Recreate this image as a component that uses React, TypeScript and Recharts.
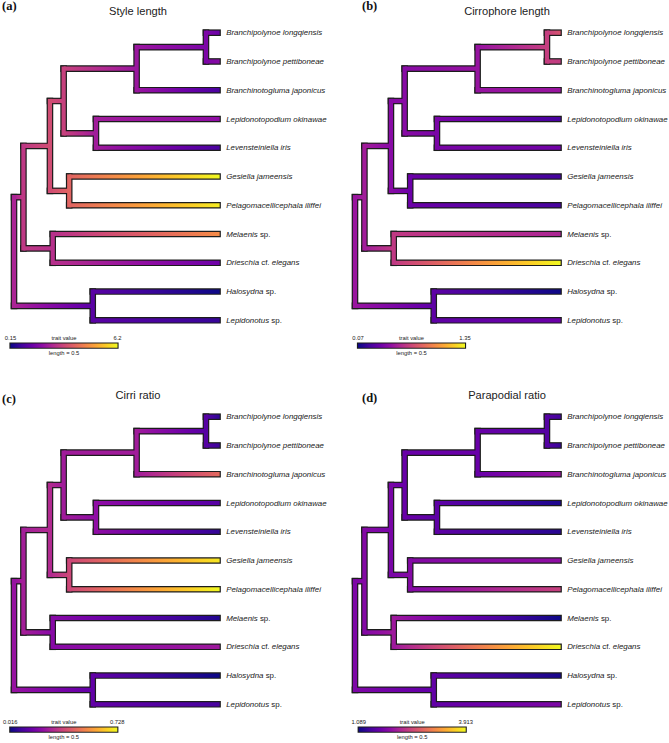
import React from "react";
import { ScatterChart, Scatter, XAxis, YAxis, ReferenceArea } from "recharts";

// tips, top to bottom
const TAXA = [
  "Branchipolynoe longqiensis",
  "Branchipolynoe pettiboneae",
  "Branchinotogluma japonicus",
  "Lepidonotopodium okinawae",
  "Levensteiniella iris",
  "Gesiella jameensis",
  "Pelagomacellicephala iliffei",
  "Melaenis sp.",
  "Drieschia cf. elegans",
  "Halosydna sp.",
  "Lepidonotus sp.",
];

// internal nodes (tree units from the root) and their two children
const NODE_IDS = ["root", "n1", "n2", "n3", "n4", "n5", "n6", "n7", "n8", "n9"];
const NODE_DEPTHS = [0, 0.044, 0.168, 0.232, 0.573, 0.897, 0.383, 0.258, 0.181, 0.368];
const NODE_CHILDREN = [
  ["n1", "n9"],
  ["n2", "n8"],
  ["n3", "n7"],
  ["n4", "n6"],
  ["n5", "t2"],
  ["t0", "t1"],
  ["t3", "t4"],
  ["t5", "t6"],
  ["t7", "t8"],
  ["t9", "t10"],
];
const TIP_DEPTH = 0.961;
const LEGEND_LENGTH = 0.5;

const TITLES = ["Style length", "Cirrophore length", "Cirri ratio", "Parapodial ratio"];
const LETTERS = ["(a)", "(b)", "(c)", "(d)"];
const RANGES = [
  [0.15, 6.2],
  [0.07, 1.35],
  [0.016, 0.728],
  [1.089, 3.913],
];
const RANGE_LABELS = [
  ["0.15", "6.2"],
  ["0.07", "1.35"],
  ["0.016", "0.728"],
  ["1.089", "3.913"],
];

// trait values at tips (TAXA order) and at nodes (NODE_IDS order)
const STYLE_TIPS = [1.36, 1.84, 0.88, 1.97, 0.88, 6.2, 6.02, 4.51, 1.42, 0.15, 0.63];
const STYLE_NODES = [2.45, 2.87, 3.3, 3.05, 2.15, 1.66, 2.27, 3.78, 2.69, 1.12];
const CIRROPHORE_TIPS = [0.77, 0.66, 0.49, 0.22, 0.35, 0.21, 0.22, 0.56, 1.35, 0.07, 0.33];
const CIRROPHORE_NODES = [0.49, 0.52, 0.43, 0.43, 0.48, 0.67, 0.38, 0.33, 0.65, 0.29];
const CIRRI_TIPS = [0.059, 0.08, 0.457, 0.123, 0.066, 0.699, 0.728, 0.044, 0.258, 0.016, 0.101];
const CIRRI_NODES = [0.244, 0.272, 0.301, 0.265, 0.265, 0.123, 0.23, 0.372, 0.215, 0.144];
const PARAPODIAL_TIPS = [1.4, 1.32, 2.02, 1.17, 1.23, 1.94, 2.44, 1.089, 3.913, 1.15, 1.8];
const PARAPODIAL_NODES = [1.8, 1.85, 1.77, 1.65, 1.65, 1.51, 1.57, 1.85, 2.05, 1.6];

const TIP_VALUES = [STYLE_TIPS, CIRROPHORE_TIPS, CIRRI_TIPS, PARAPODIAL_TIPS];
const NODE_VALUES = [STYLE_NODES, CIRROPHORE_NODES, CIRRI_NODES, PARAPODIAL_NODES];

// layout
const CHART_W = 328;
const CHART_H = 358;
const X_DOMAIN = [-0.0654, 1.4673];
const Y_DOMAIN = [-0.137, 12.311];
const PX_X = CHART_W / (X_DOMAIN[1] - X_DOMAIN[0]);
const PX_Y = CHART_H / (Y_DOMAIN[1] - Y_DOMAIN[0]);
const LINE_W = 4.2;
const OUTLINE_W = 6.6;
const PANEL_POS = [
  { left: 0, top: 0, titleX: 138, letterX: 2, letterY: 9.5, legendLeft: 10.5 },
  { left: 341, top: 0, titleX: 166, letterX: 21, letterY: 9.5, legendLeft: 17 },
  { left: 0, top: 384, titleX: 138, letterX: 2, letterY: 18.5, legendLeft: 10.3 },
  { left: 341, top: 384, titleX: 166, letterX: 21, letterY: 18, legendLeft: 17.7 },
];

const PLASMA = [
  "#0d0887", "#41049d", "#6a00a8", "#8f0da4", "#b12a90", "#cc4778",
  "#e16462", "#f2844b", "#fca636", "#fcce25", "#f0f921",
];

const hex = (h: string) => [1, 3, 5].map((i) => parseInt(h.slice(i, i + 2), 16));
function plasma(t: number) {
  const c = Math.min(1, Math.max(0, t)) * (PLASMA.length - 1);
  const i = Math.min(PLASMA.length - 2, Math.floor(c));
  const f = c - i;
  const a = hex(PLASMA[i]);
  const b = hex(PLASMA[i + 1]);
  return `rgb(${a.map((v, k) => Math.round(v + (b[k] - v) * f)).join(",")})`;
}

const dx = (px: number) => px / PX_X;
const dy = (px: number) => px / PX_Y;
const yAt = (px: number) => Y_DOMAIN[0] + px / PX_Y;
const xAt = (px: number) => X_DOMAIN[0] + px / PX_X;

function buildTree() {
  const depth: Record<string, number> = {};
  const yPos: Record<string, number> = {};
  TAXA.forEach((_, i) => {
    depth["t" + i] = TIP_DEPTH;
    yPos["t" + i] = i + 1;
  });
  NODE_IDS.forEach((id, k) => (depth[id] = NODE_DEPTHS[k]));
  const getY = (id: string): number => {
    if (yPos[id] === undefined) {
      const [a, b] = NODE_CHILDREN[NODE_IDS.indexOf(id)];
      yPos[id] = (getY(a) + getY(b)) / 2;
    }
    return yPos[id];
  };
  getY("root");
  return { depth, yPos };
}

const TREE = buildTree();

const renderTip = (props: any) => {
  const { cx, cy, payload } = props;
  const words: string[] = payload.name.split(" ");
  return (
    <text x={cx + 6.5} y={cy} dy="0.34em" fontSize={7.9} fontFamily="'Liberation Sans', Arial, sans-serif" fill="#1a1a1a">
      {words.map((w, i) => (
        <tspan key={i} fontStyle={w === "sp." || w === "cf." ? "normal" : "italic"}>
          {(i ? " " : "") + w}
        </tspan>
      ))}
    </text>
  );
};

const renderLegendText = (props: any) => {
  const { cx, cy, payload } = props;
  return (
    <text x={cx} y={cy} textAnchor="middle" fontSize={5.8} fontFamily="'Liberation Sans', Arial, sans-serif" fill="#1a1a1a">
      {payload.label}
    </text>
  );
};

function TreePanel({ idx }: { idx: number }) {
  const pos = PANEL_POS[idx];
  const [lo, hi] = RANGES[idx];
  const { depth, yPos } = TREE;
  const value: Record<string, number> = {};
  TAXA.forEach((_, i) => (value["t" + i] = TIP_VALUES[idx][i]));
  NODE_IDS.forEach((id, k) => (value[id] = NODE_VALUES[idx][k]));
  const tOf = (id: string) => (value[id] - lo) / (hi - lo);

  const edges = NODE_IDS.flatMap((id, k) => NODE_CHILDREN[k].map((c) => ({ from: id, to: c })));
  const hw = dx(LINE_W / 2);
  const ow = dx(OUTLINE_W / 2);
  const hh = dy(LINE_W / 2);
  const oh = dy(OUTLINE_W / 2);

  const tipPts = TAXA.map((name, i) => ({ x: TIP_DEPTH, y: i + 1, name }));
  const legX0 = xAt(pos.legendLeft);
  const legX1 = legX0 + LEGEND_LENGTH;
  const legendPts = [
    { x: legX0, y: yAt(339.6), label: RANGE_LABELS[idx][0] },
    { x: (legX0 + legX1) / 2, y: yAt(339.6), label: "trait value" },
    { x: legX1, y: yAt(339.6), label: RANGE_LABELS[idx][1] },
    { x: (legX0 + legX1) / 2, y: yAt(355), label: `length = ${LEGEND_LENGTH}` },
  ];

  const stops = (t0: number, t1: number) =>
    Array.from({ length: 11 }, (_, s) => (
      <stop key={s} offset={s / 10} stopColor={plasma(t0 + ((t1 - t0) * s) / 10)} />
    ));

  return (
    <div style={{ position: "absolute", left: pos.left, top: pos.top, width: CHART_W, height: CHART_H }}>
      <ScatterChart width={CHART_W} height={CHART_H} margin={{ top: 0, right: 0, bottom: 0, left: 0 }}>
        <defs>
          {edges.map((e) => (
            <linearGradient key={e.to} id={`br-${idx}-${e.to}`} x1="0" y1="0" x2="1" y2="0">
              {stops(tOf(e.from), tOf(e.to))}
            </linearGradient>
          ))}
          <linearGradient id={`leg-${idx}`} x1="0" y1="0" x2="1" y2="0">
            {stops(0, 1)}
          </linearGradient>
        </defs>
        <XAxis type="number" dataKey="x" domain={X_DOMAIN} hide allowDataOverflow />
        <YAxis type="number" dataKey="y" domain={Y_DOMAIN} hide reversed allowDataOverflow />

        {/* black outline underneath */}
        {edges.map((e) => (
          <ReferenceArea
            key={`oh-${e.to}`}
            x1={depth[e.from] - ow}
            x2={depth[e.to] + (e.to[0] === "t" ? ow - hw : 0)}
            y1={yPos[e.to] - oh}
            y2={yPos[e.to] + oh}
            fill="#1c1c1c"
            fillOpacity={1}
            stroke="none"
            ifOverflow="visible"
          />
        ))}
        {NODE_IDS.map((id, k) => (
          <ReferenceArea
            key={`ov-${id}`}
            x1={depth[id] - ow}
            x2={depth[id] + ow}
            y1={yPos[NODE_CHILDREN[k][0]] - oh}
            y2={yPos[NODE_CHILDREN[k][1]] + oh}
            fill="#1c1c1c"
            fillOpacity={1}
            stroke="none"
            ifOverflow="visible"
          />
        ))}

        {/* coloured branches */}
        {edges.map((e) => (
          <ReferenceArea
            key={`ch-${e.to}`}
            x1={depth[e.from]}
            x2={depth[e.to]}
            y1={yPos[e.to] - hh}
            y2={yPos[e.to] + hh}
            fill={`url(#br-${idx}-${e.to})`}
            fillOpacity={1}
            stroke="none"
            ifOverflow="visible"
          />
        ))}
        {NODE_IDS.map((id, k) => (
          <ReferenceArea
            key={`cv-${id}`}
            x1={depth[id] - hw}
            x2={depth[id] + hw}
            y1={yPos[NODE_CHILDREN[k][0]] - hh}
            y2={yPos[NODE_CHILDREN[k][1]] + hh}
            fill={plasma(tOf(id))}
            fillOpacity={1}
            stroke="none"
            ifOverflow="visible"
          />
        ))}

        {/* colour bar */}
        <ReferenceArea
          x1={legX0 - dx(1.1)}
          x2={legX1 + dx(1.1)}
          y1={yAt(342.5)}
          y2={yAt(348.7)}
          fill="#1c1c1c"
          fillOpacity={1}
          stroke="none"
          ifOverflow="visible"
        />
        <ReferenceArea
          x1={legX0}
          x2={legX1}
          y1={yAt(343.5)}
          y2={yAt(347.7)}
          fill={`url(#leg-${idx})`}
          fillOpacity={1}
          stroke="none"
          ifOverflow="visible"
        />

        <Scatter data={tipPts} shape={renderTip} isAnimationActive={false} />
        <Scatter data={legendPts} shape={renderLegendText} isAnimationActive={false} />

        <text x={pos.titleX} y={15} textAnchor="middle" fontSize={11.1} fontFamily="'Liberation Sans', Arial, sans-serif" fill="#222">
          {TITLES[idx]}
        </text>
        <text x={pos.letterX} y={pos.letterY} fontSize={12.5} fontWeight="bold" fontFamily="'Liberation Serif', 'Times New Roman', serif" fill="#111">
          {LETTERS[idx]}
        </text>
      </ScatterChart>
    </div>
  );
}

export default function App() {
  return (
    <div style={{ position: "absolute", left: 0, top: 0, width: 669, height: 743, background: "#fff", overflow: "hidden" }}>
      {[0, 1, 2, 3].map((i) => (
        <TreePanel key={i} idx={i} />
      ))}
    </div>
  );
}
